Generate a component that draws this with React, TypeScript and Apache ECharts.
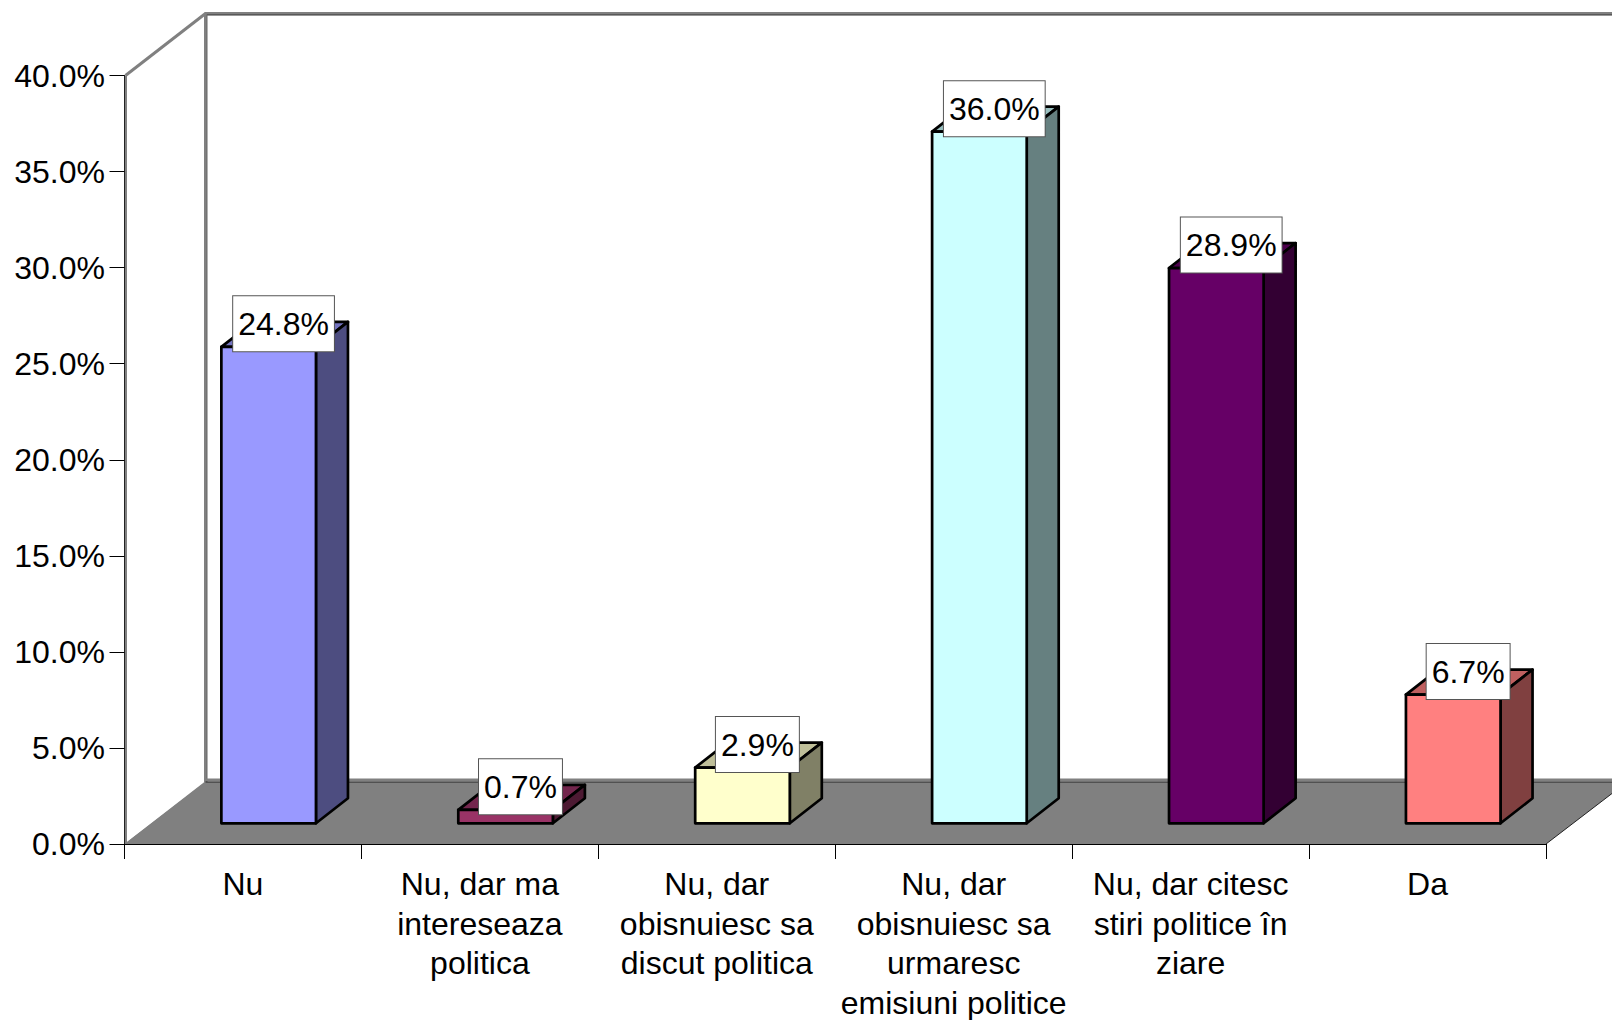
import React, { useEffect, useRef } from "react";
import * as echarts from "echarts";

const categories = [
  "Nu",
  "Nu, dar ma\nintereseaza\npolitica",
  "Nu, dar\nobisnuiesc sa\ndiscut politica",
  "Nu, dar\nobisnuiesc sa\nurmaresc\nemisiuni politice",
  "Nu, dar citesc\nstiri politice în\nziare",
  "Da",
];
const values = [24.8, 0.7, 2.9, 36.0, 28.9, 6.7];
const labels = ["24.8%", "0.7%", "2.9%", "36.0%", "28.9%", "6.7%"];
const barColors = ["#9999ff", "#993366", "#ffffcc", "#ccffff", "#660066", "#ff8080"];

const FONT = "'Liberation Sans', Arial, sans-serif";
const DEPTH_X = 81;
const DEPTH_Y = 62;
const BAR_DX = 32;
const BAR_DY = 25;
const LIFT_Y = 20.7;
const BAR_LEFT = -21.6;
const BAR_W = 94.6;

function shade(hex: string, k: number) {
  const n = parseInt(hex.slice(1), 16);
  const c = [(n >> 16) & 255, (n >> 8) & 255, n & 255].map((v) => Math.round(v * k));
  return `rgb(${c[0]},${c[1]},${c[2]})`;
}

function renderWalls(params: any) {
  const g = params.coordSys;
  const l = g.x, r = g.x + g.width, t = g.y, b = g.y + g.height;
  const gray = "#808080";
  const line = (x1: number, y1: number, x2: number, y2: number, stroke: string, lineWidth: number) => ({
    type: "line",
    shape: { x1, y1, x2, y2 },
    style: { stroke, lineWidth, fill: null },
  });
  return {
    type: "group",
    children: [
      {
        type: "polygon",
        shape: { points: [[l, b], [r, b], [r + DEPTH_X, b - DEPTH_Y], [l + DEPTH_X, b - DEPTH_Y]] },
        style: { fill: gray, stroke: null },
      },
      line(l + 1.5, t, l + 1.5, b, gray, 2),
      line(l + 1, t, l + DEPTH_X, t - DEPTH_Y, gray, 3),
      line(l + 1, b, l + DEPTH_X, b - DEPTH_Y, gray, 1.5),
      line(l + DEPTH_X, t - DEPTH_Y, l + DEPTH_X, b - DEPTH_Y, gray, 3),
      line(l + DEPTH_X - 1, t - DEPTH_Y, r + DEPTH_X, t - DEPTH_Y, gray, 3),
      line(l + DEPTH_X + 1.5, t - DEPTH_Y + 1.5, r + DEPTH_X, t - DEPTH_Y + 1.5, "#333", 1),
      line(l + DEPTH_X + 1.5, t - DEPTH_Y + 1, l + DEPTH_X + 1.5, b - DEPTH_Y, "#666", 1),
      line(l + DEPTH_X, b - DEPTH_Y - 2, r + DEPTH_X, b - DEPTH_Y - 2, gray, 3),
      line(l + DEPTH_X, b - DEPTH_Y, r + DEPTH_X, b - DEPTH_Y, "#222", 1),
      line(r, b, r + DEPTH_X, b - DEPTH_Y, "#222", 1),
    ],
  };
}

function renderBar(params: any, api: any) {
  const i = api.value(0);
  const v = api.value(1);
  const [cx, yTopRaw] = api.coord([i, v]);
  const [, yBaseRaw] = api.coord([i, 0]);
  const x0 = cx + BAR_LEFT;
  const x1 = x0 + BAR_W;
  const yb = yBaseRaw - LIFT_Y;
  const yt = yTopRaw - LIFT_Y;
  const col = barColors[i];
  const edge = { stroke: "#000", lineWidth: 2.7, lineJoin: "round" };
  const poly = (points: number[][], fill: string) => ({
    type: "polygon",
    shape: { points },
    style: { fill, ...edge },
  });
  return {
    type: "group",
    children: [
      poly([[x0, yt], [x1, yt], [x1 + BAR_DX, yt - BAR_DY], [x0 + BAR_DX, yt - BAR_DY]], shade(col, 0.75)),
      poly([[x1, yb], [x1 + BAR_DX, yb - BAR_DY], [x1 + BAR_DX, yt - BAR_DY], [x1, yt]], shade(col, 0.5)),
      poly([[x0, yb], [x1, yb], [x1, yt], [x0, yt]], col),
      {
        type: "text",
        x: (x0 + x1) / 2 + 14.9,
        y: yt - 23,
        style: {
          text: labels[i],
          font: `32px ${FONT}`,
          fill: "#000",
          align: "center",
          verticalAlign: "middle",
          backgroundColor: "#fff",
          borderColor: "#555",
          borderWidth: 1,
          padding: [11, 5, 12, 5],
        },
      },
    ],
  };
}

export default function App() {
  const ref = useRef<HTMLDivElement>(null);
  useEffect(() => {
    const chart = echarts.init(ref.current!, null, { renderer: "svg" });
    chart.setOption({
      animation: false,
      backgroundColor: "#fff",
      grid: { left: 124.5, top: 75.5, width: 1421.5, height: 768.5, containLabel: false, outerBoundsMode: "none" },
      xAxis: {
        type: "category",
        data: categories,
        z: 3,
        axisLine: { lineStyle: { color: "#000", width: 1 } },
        axisTick: { show: true, length: 15, lineStyle: { color: "#000", width: 1 } },
        axisLabel: {
          interval: 0,
          margin: 20.5,
          color: "#000",
          fontFamily: FONT,
          fontSize: 32,
          lineHeight: 39.5,
          verticalAlign: "top",
        },
        splitLine: { show: false },
      },
      yAxis: {
        type: "value",
        min: 0,
        max: 40,
        interval: 5,
        z: 3,
        axisLine: { show: true, lineStyle: { color: "#222", width: 1 } },
        axisTick: { show: true, length: 15, lineStyle: { color: "#000", width: 1 } },
        axisLabel: {
          margin: 19.5,
          color: "#000",
          fontFamily: FONT,
          fontSize: 32,
          formatter: (v: number) => `${v.toFixed(1)}%`,
        },
        splitLine: { show: false },
      },
      series: [
        { type: "custom", z: 1, clip: false, silent: true, renderItem: renderWalls, data: [[0, 0]], encode: { x: 0, y: 1 } },
        {
          type: "custom",
          z: 4,
          clip: false,
          renderItem: renderBar,
          data: values.map((v, i) => [i, v]),
          encode: { x: 0, y: 1 },
        },
      ],
    });
    return () => chart.dispose();
  }, []);
  return <div ref={ref} style={{ position: "fixed", left: 0, top: 0, width: 1612, height: 1020 }} />;
}
